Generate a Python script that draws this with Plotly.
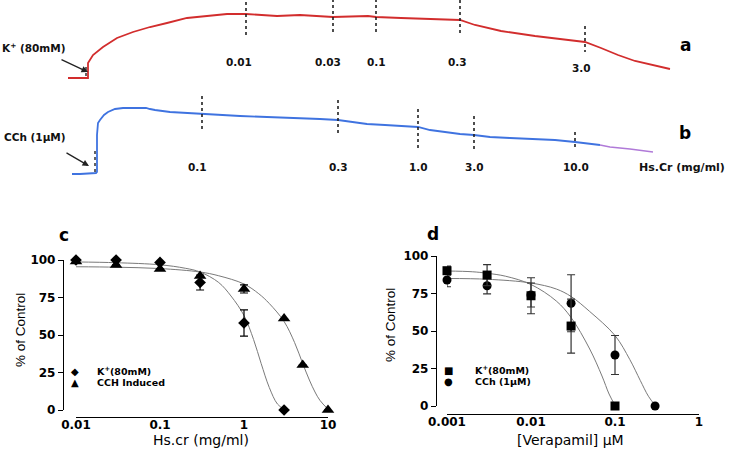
import numpy as np
import plotly.graph_objects as go

W, H = 736, 449

# ---------------- Data: tracings (a: K+ 80mM, b: CCh 1uM) ----------------
trace_a_time = [68, 88, 88, 90, 93, 103, 117, 133, 150, 167, 187, 207, 227, 246, 263, 277, 300, 317, 333,
                368, 376, 401, 435, 460, 475, 501, 535, 568, 585, 601, 618, 635, 651, 670]
trace_a_tension = [0, 0, 15, 18, 23, 31, 40, 46, 51, 55, 60, 62, 64, 64, 63, 62, 63, 62, 61,
                   62, 61, 60, 59, 58, 53, 47, 42, 38, 36, 30, 23, 17, 13, 9]
dose_a_time = [246, 333, 376, 460, 585]
dose_a_labels = ["0.01", "0.03", "0.1", "0.3", "3.0"]

trace_b_time = [72, 80, 96, 97, 97, 98, 100, 104, 108, 115, 123, 135, 146, 150, 155, 170, 185, 202, 220,
                240, 267, 300, 320, 338, 352, 367, 385, 400, 418, 430, 445, 460, 474, 490, 510, 535,
                555, 575, 590, 600]
trace_b_tension = [-1, -1, 0, 1, 38, 50, 53, 58, 61, 64, 65, 65, 65, 64, 63, 61, 60, 59, 58,
                   57, 56, 55, 54, 53, 51, 49, 48, 47, 46, 43, 41, 39, 38, 36, 35, 34,
                   33, 31, 29, 28]
trace_b_tail_time = [600, 610, 630, 653]
trace_b_tail_tension = [28, 26, 24, 21]
dose_b_time = [202, 338, 418, 474, 575]
dose_b_labels = ["0.1", "0.3", "1.0", "3.0", "10.0"]

# ---------------- Data: panel c (Hs.Cr) ----------------
c_k_conc = [0.01, 0.03, 0.1, 0.3, 1, 3]
c_k_resp = [100, 100, 98.4, 85, 58, 0]
c_k_err = [0, 0, 0, 5, 8.7, 0]
c_cch_conc = [0.01, 0.03, 0.1, 0.3, 1, 3, 5, 10]
c_cch_resp = [99, 96.7, 94, 89.3, 80.7, 61, 30, 0]
c_cch_err = [0, 0, 0, 0, 2.7, 0, 0, 0]
c_k_fit_x = [0.01, 0.03, 0.1, 0.2, 0.3, 0.5, 0.7, 1.0, 1.3, 1.6, 2.0, 2.5, 3.0]
c_k_fit_y = [98.7, 98.2, 96.8, 94.5, 92, 85, 76, 63, 47, 31, 15, 4, 0.5]
c_cch_fit_x = [0.01, 0.03, 0.1, 0.3, 0.5, 1, 1.5, 2, 3, 4, 5, 6, 7, 8, 10]
c_cch_fit_y = [95.5, 95.2, 94.3, 92, 89.5, 84, 77.5, 71, 59, 45, 31, 20, 12, 6.5, 0.5]

# ---------------- Data: panel d (Verapamil) ----------------
d_k_conc = [0.001, 0.003, 0.01, 0.03, 0.1]
d_k_resp = [90.2, 87.3, 73.5, 53.3, 0]
d_k_err = [3, 7, 12, 18, 0]
d_cch_conc = [0.001, 0.003, 0.01, 0.03, 0.1, 0.3]
d_cch_resp = [84, 80.2, 74, 68.5, 34, 0]
d_cch_err = [4.5, 5.5, 8, 19, 13, 0]
d_k_fit_x = [0.001, 0.002, 0.003, 0.005, 0.01, 0.02, 0.03, 0.05, 0.07, 0.085, 0.1]
d_k_fit_y = [90, 89.5, 88.5, 86.5, 81, 70, 59, 38, 20, 8, 0.5]
d_cch_fit_x = [0.001, 0.003, 0.01, 0.02, 0.03, 0.05, 0.1, 0.15, 0.2, 0.25, 0.3]
d_cch_fit_y = [85, 84.5, 82, 78, 73, 63, 47, 31, 17, 6.5, 0.5]

x_ticks_c = [0.01, 0.1, 1, 10]
x_ticktext_c = ["0.01", "0.1", "1", "10"]
x_ticks_d = [0.001, 0.01, 0.1, 1]
x_ticktext_d = ["0.001", "0.01", "0.1", "1"]
y_ticks = [0, 25, 50, 75, 100]


def px(x):
    return x / W


def py(y):
    return 1 - y / H


RED = "#d22d2d"
BLUE = "#3f73e0"
PURPLE = "#b07ad8"
FIT = "#7a7a7a"

fig = go.Figure()

# ---- tracings ----
fig.add_trace(go.Scatter(x=trace_a_time, y=trace_a_tension, mode="lines",
                         line=dict(color=RED, width=1.8), xaxis="x3", yaxis="y3", showlegend=False))
fig.add_trace(go.Scatter(x=trace_b_time, y=trace_b_tension, mode="lines",
                         line=dict(color=BLUE, width=1.8), xaxis="x3", yaxis="y4", showlegend=False))
fig.add_trace(go.Scatter(x=trace_b_tail_time, y=trace_b_tail_tension, mode="lines",
                         line=dict(color=PURPLE, width=1.5), xaxis="x3", yaxis="y4", showlegend=False))


def add_marks(times, ttime, tten, up, down, yax):
    for i, t in enumerate(times):
        v = float(np.interp(t, ttime, tten))
        fig.add_trace(go.Scatter(x=[t, t], y=[v + up[i], v - down[i]], mode="lines",
                                 line=dict(color="#222", width=1.6, dash="dot"),
                                 xaxis="x3", yaxis=yax, showlegend=False))


add_marks(dose_a_time, trace_a_time, trace_a_tension, [18, 18, 18, 20, 16], [21, 18, 18, 16, 10], "y3")
add_marks(dose_b_time, trace_b_time, trace_b_tension, [18, 20, 18, 19, 10], [17, 16, 23, 17, 6], "y4")
# agonist addition marks
fig.add_trace(go.Scatter(x=[86, 86], y=[2, 12], mode="lines", line=dict(color="#222", width=1.4, dash="dot"),
                         xaxis="x3", yaxis="y3", showlegend=False))
fig.add_trace(go.Scatter(x=[95, 95], y=[1, 23], mode="lines", line=dict(color="#222", width=1.4, dash="dot"),
                         xaxis="x3", yaxis="y4", showlegend=False))

# ---- panel c ----
fig.add_trace(go.Scatter(x=c_k_fit_x, y=c_k_fit_y, mode="lines", line=dict(color=FIT, width=1, shape="spline"),
                         xaxis="x", yaxis="y", showlegend=False))
fig.add_trace(go.Scatter(x=c_cch_fit_x, y=c_cch_fit_y, mode="lines", line=dict(color=FIT, width=1, shape="spline"),
                         xaxis="x", yaxis="y", showlegend=False))
fig.add_trace(go.Scatter(x=c_cch_conc, y=c_cch_resp, mode="markers",
                         marker=dict(symbol="triangle-up", size=11, color="black"),
                         error_y=dict(type="data", array=c_cch_err, color="black", thickness=1.2, width=4),
                         xaxis="x", yaxis="y", cliponaxis=False, showlegend=False))
fig.add_trace(go.Scatter(x=c_k_conc, y=c_k_resp, mode="markers",
                         marker=dict(symbol="diamond", size=9, color="black"),
                         error_y=dict(type="data", array=c_k_err, color="black", thickness=1.2, width=4),
                         xaxis="x", yaxis="y", cliponaxis=False, showlegend=False))

# ---- panel d ----
fig.add_trace(go.Scatter(x=d_k_fit_x, y=d_k_fit_y, mode="lines", line=dict(color=FIT, width=1, shape="spline"),
                         xaxis="x2", yaxis="y2", showlegend=False))
fig.add_trace(go.Scatter(x=d_cch_fit_x, y=d_cch_fit_y, mode="lines", line=dict(color=FIT, width=1, shape="spline"),
                         xaxis="x2", yaxis="y2", showlegend=False))
fig.add_trace(go.Scatter(x=d_cch_conc, y=d_cch_resp, mode="markers",
                         marker=dict(symbol="circle", size=9, color="black"),
                         error_y=dict(type="data", array=d_cch_err, color="#333", thickness=1.2, width=4),
                         xaxis="x2", yaxis="y2", cliponaxis=False, showlegend=False))
fig.add_trace(go.Scatter(x=d_k_conc, y=d_k_resp, mode="markers",
                         marker=dict(symbol="square", size=9, color="black"),
                         error_y=dict(type="data", array=d_k_err, color="#333", thickness=1.2, width=4),
                         xaxis="x2", yaxis="y2", cliponaxis=False, showlegend=False))

tickfont_x = dict(family="DejaVu Sans", weight="bold", size=12, color="black")
tickfont_y = dict(family="DejaVu Sans", weight="bold", size=12, color="black")

common_x = dict(type="log", showline=True, linecolor="black", linewidth=1.3, ticks="", showgrid=False,
                zeroline=False, tickfont=tickfont_x, anchor="free", automargin=False, ticklabelstandoff=-4)
common_y = dict(range=[0, 100], showline=True, linecolor="black", linewidth=1.3, ticks="outside", ticklen=5,
                tickwidth=1.2, tickcolor="black", tickvals=y_ticks, showgrid=False, zeroline=False,
                tickfont=tickfont_y, anchor="free", automargin=False)

fig.update_layout(
    width=W, height=H, margin=dict(l=0, r=0, t=0, b=0, autoexpand=False),
    paper_bgcolor="white", plot_bgcolor="rgba(0,0,0,0)",
    showlegend=False,
    xaxis=dict(common_x, range=[-2, 1], domain=[px(76), px(328)], position=py(417),
               tickvals=x_ticks_c, ticktext=x_ticktext_c),
    yaxis=dict(common_y, domain=[py(410), py(260)], position=px(63)),
    xaxis2=dict(common_x, range=[-3, 0], domain=[px(447), px(699)], position=py(414),
                tickvals=x_ticks_d, ticktext=x_ticktext_d),
    yaxis2=dict(common_y, domain=[py(406), py(256)], position=px(436)),
    xaxis3=dict(domain=[0, 1], range=[0, W], visible=False, anchor="y3", automargin=False),
    yaxis3=dict(domain=[0, 1], range=[78 - H, 78], visible=False, anchor="x3", automargin=False),
    yaxis4=dict(range=[173 - H, 173], visible=False, overlaying="y3", anchor="x3", automargin=False),
)


def note(x, y, text, font, xanchor="center", **kw):
    return dict(x=px(x), y=py(y), xref="paper", yref="paper", text=text, showarrow=False,
                xanchor=xanchor, yanchor="middle", font=font, **kw)


ann = []
lab_font = dict(family="DejaVu Sans", weight="bold", size=10.5, color="#111")
a_label_pos = [(239, 62), (328, 62), (376, 62), (457, 62), (581, 68)]
for txt, (x, y) in zip(dose_a_labels, a_label_pos):
    ann.append(note(x, y, txt, lab_font))
b_label_pos = [(197, 167), (338, 167), (418, 167), (475, 167), (576, 167)]
for txt, (x, y) in zip(dose_b_labels, b_label_pos):
    ann.append(note(x, y, txt, lab_font))

ann += [
    note(0, 48, "K<sup>+</sup> (80mM)", lab_font, xanchor="left"),
    note(2, 137, "CCh (1µM)", lab_font, xanchor="left"),
    note(637, 167, "Hs.Cr (mg/ml)", dict(lab_font, size=11), xanchor="left"),
    dict(x=px(88), y=py(72), xref="paper", yref="paper", text="", showarrow=True, ax=-28, ay=-13,
         arrowhead=2, arrowsize=1, arrowwidth=1.3, arrowcolor="#222", standoff=0),
    dict(x=px(89), y=py(166), xref="paper", yref="paper", text="", showarrow=True, ax=-24, ay=-14,
         arrowhead=2, arrowsize=1, arrowwidth=1.3, arrowcolor="#222", standoff=0),
]
panel_font = dict(family="DejaVu Sans", weight="bold", size=17, color="black")
for t, x, y in [("a", 685, 45), ("b", 685, 133), ("c", 64, 235), ("d", 433, 234)]:
    ann.append(note(x, y, t, panel_font))

# axis titles
xtitle_font = dict(family="DejaVu Sans", size=14, color="black")
ytitle_font = dict(family="Liberation Sans", size=13.5, color="black")
ann += [
    note(201, 440, "Hs.cr (mg/ml)", xtitle_font),
    note(570, 440, "[Verapamil] µM", xtitle_font),
    note(20, 330, "% of Control", ytitle_font, textangle=-90),
    note(390, 325, "% of Control", ytitle_font, textangle=-90),
]

# legends
leg_font = dict(family="DejaVu Sans", weight="bold", size=9.5, color="black")
sym_font = dict(family="DejaVu Sans", size=10, color="black")
for sym, txt, x0, xt, y in [("◆", "K<sup>+</sup>(80mM)", 75, 95, 371), ("▲", "CCH Induced", 75, 95, 382),
                            ("■", "K<sup>+</sup>(80mM)", 448, 473, 370), ("●", "CCh (1µM)", 448, 473, 381)]:
    ann.append(note(x0, y, sym, sym_font))
    ann.append(note(xt, y, txt, leg_font, xanchor="left"))

fig.update_layout(annotations=ann)
fig.write_html("out.html", config={"displayModeBar": False},
               post_script="document.body.style.margin='0px';")
